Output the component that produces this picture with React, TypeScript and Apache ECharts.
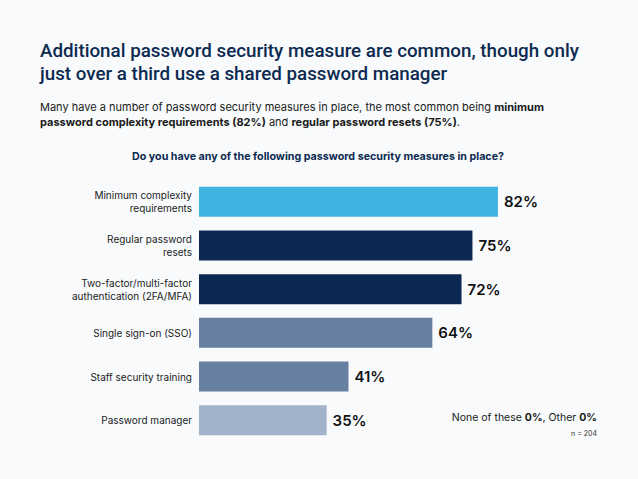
import React, { useEffect, useRef } from 'react';
import * as echarts from 'echarts';

const categories = [
  'Minimum complexity\nrequirements',
  'Regular password\nresets',
  'Two-factor/multi-factor\nauthentication (2FA/MFA)',
  'Single sign-on (SSO)',
  'Staff security training',
  'Password manager',
];
const values = [82, 75, 72, 64, 41, 35];
const barColors = ['#41b3e3', '#0b2852', '#0b2852', '#677fa1', '#677fa1', '#a1b3cb'];

const FONT = 'Inter, Roboto, sans-serif';
const TITLE_FONT = 'Roboto, Inter, sans-serif';
const NAVY = '#0c2a50';

const App = () => {
  const chartRef = useRef<HTMLDivElement>(null);

  useEffect(() => {
    document.body.style.margin = '0';
    let chart: echarts.ECharts | null = null;
    if (chartRef.current) {
      chart = echarts.init(chartRef.current, undefined, { renderer: 'svg' });
      const option: echarts.EChartsOption = {
        animation: false,
        backgroundColor: '#f8fafc',
        textStyle: { fontFamily: FONT },
        grid: { left: 199, top: 180, height: 262, width: 364.6 },
        xAxis: {
          type: 'value',
          min: 0,
          max: 100,
          show: false,
        },
        yAxis: {
          type: 'category',
          inverse: true,
          data: categories,
          axisLine: { show: false },
          axisTick: { show: false },
          axisLabel: {
            margin: 7,
            fontSize: 10,
            lineHeight: 13,
            color: '#222222',
            fontFamily: FONT,
          },
        },
        series: [
          {
            type: 'bar',
            barWidth: 30,
            data: values.map((v, i) => ({ value: v, itemStyle: { color: barColors[i] } })),
            label: {
              show: true,
              position: 'right',
              distance: 6,
              formatter: '{c}%',
              fontSize: 15,
              fontWeight: 600,
              color: '#111111',
              fontFamily: FONT,
            },
          },
        ],
        graphic: [
          {
            type: 'text',
            left: 40,
            top: 39,
            style: {
              text: 'Additional password security measure are common, though only\njust over a third use a shared password manager',
              fontSize: 18.8,
              lineHeight: 23,
              fontWeight: 500,
              fill: NAVY,
              fontFamily: TITLE_FONT,
            },
          },
          {
            type: 'text',
            left: 40,
            top: 99,
            style: {
              text:
                'Many have a number of password security measures in place, the most common being {b|minimum}\n{b|password complexity requirements (82%)} and {b|regular password resets (75%)}.',
              fontSize: 11,
              lineHeight: 15,
              fill: '#1a1a1a',
              fontFamily: FONT,
              rich: {
                b: { fontWeight: 700, fontSize: 11, fill: '#1a1a1a', fontFamily: FONT },
              },
            },
          },
          {
            type: 'text',
            x: 318,
            y: 156,
            style: {
              text: 'Do you have any of the following password security measures in place?',
              fontSize: 10.7,
              fontWeight: 700,
              fill: NAVY,
              align: 'center',
              verticalAlign: 'middle',
              fontFamily: FONT,
            },
          },
          {
            type: 'text',
            x: 597,
            y: 417,
            style: {
              text: 'None of these {b|0%}, Other {b|0%}',
              fontSize: 10.5,
              fill: '#1a1a1a',
              align: 'right',
              verticalAlign: 'middle',
              fontFamily: FONT,
              rich: {
                b: { fontWeight: 700, fontSize: 10.5, fill: '#1a1a1a', fontFamily: FONT },
              },
            },
          },
          {
            type: 'text',
            x: 597,
            y: 433,
            style: {
              text: 'n = 204',
              fontSize: 7,
              fill: '#333333',
              align: 'right',
              verticalAlign: 'middle',
              fontFamily: FONT,
            },
          },
        ],
      };
      chart.setOption(option);
    }
    return () => {
      chart?.dispose();
    };
  }, []);

  return <div ref={chartRef} style={{ width: '638px', height: '479px' }} />;
};

export default App;
